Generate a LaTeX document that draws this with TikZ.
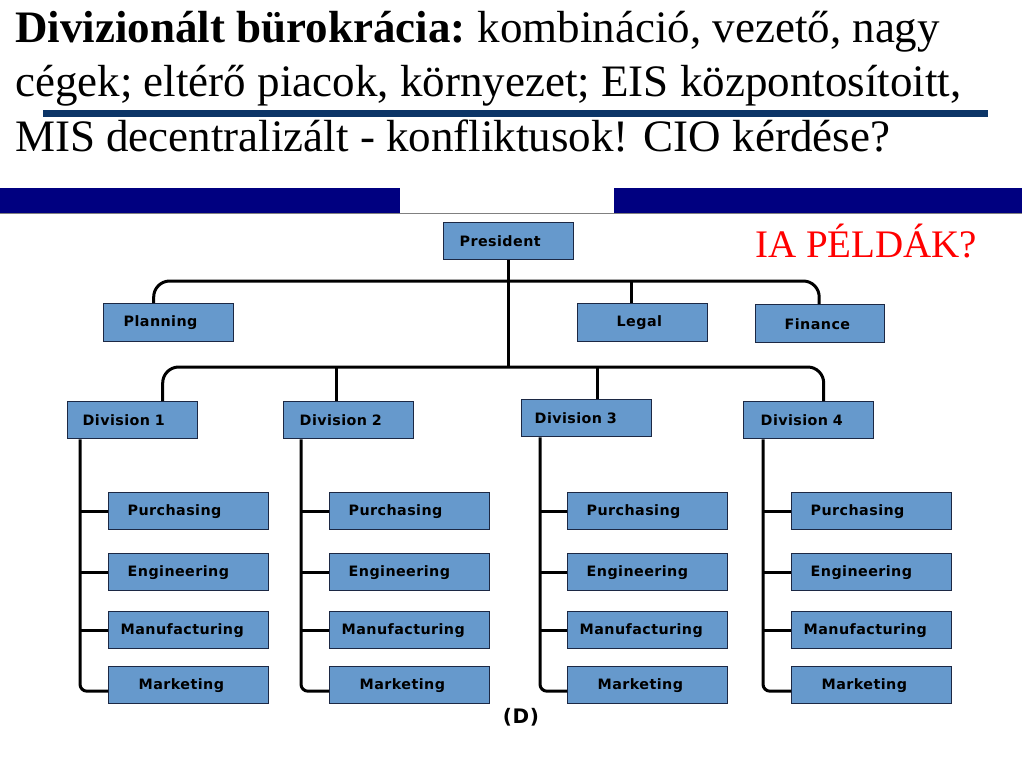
\documentclass[tikz,border=0pt]{standalone}
\usepackage{fontspec}
\setmainfont{Liberation Serif}
\newfontfamily\boxfont[LetterSpace=3]{DejaVu Sans}
\definecolor{boxblue}{HTML}{6699CC}
\definecolor{boxline}{HTML}{1C2844}
\definecolor{navybar}{HTML}{000080}
\definecolor{rulebar}{HTML}{0C3567}
\begin{document}
\begin{tikzpicture}[x=1pt,y=-1pt,
  ob/.style 2 args={draw=boxline, fill=boxblue, line width=1.4pt, anchor=north west,
    inner sep=0pt, minimum height=#2, text width=#1, align=left,
    font=\boxfont\bfseries\fontsize{14.3}{15}\selectfont},
  conn/.style={draw=black, line width=3pt},
  title/.style={anchor=base west, inner sep=0pt, font=\fontsize{45}{54}\selectfont}]
\useasboundingbox (0,0) rectangle (1024,768);

% title
\node[title] (t1) at (15,43) {\textbf{Divizionált bürokrácia:}\hspace{-3pt} kombináció, vezető, nagy};
\node[title] (t2) at (15,96) {cégek; eltérő piacok, környezet; EIS központosítoitt,};
\node[title] (t3) at (15,151) {MIS decentralizált - konfliktusok! CIO kérdése?};
\fill[rulebar] (43,110) rectangle (988,117);

% blue bars
\fill[navybar] (0,188) rectangle (400,213);
\fill[navybar] (614,188) rectangle (1022,213);
\draw[gray, line width=1pt] (0,213) -- (1022,213);

% red text
\node[anchor=base west, inner sep=0pt, text=red, font=\fontsize{39}{40}\selectfont] (ia) at (755,257) {IA PÉLDÁK?};

% top level
\node[ob={130pt}{37pt}] (pres) at (443,222) {\hspace*{16pt}President};
\node[ob={130pt}{38pt}] (plan) at (103,303) {\hspace*{20pt}Planning};
\node[ob={130pt}{38pt}] (leg) at (577,303) {\hspace*{39pt}Legal};
\node[ob={129pt}{38pt}] (fin) at (755,304) {\hspace*{29pt}Finance};

\node[ob={130pt}{37pt}] (d1) at (67,401) {\hspace*{15pt}Division 1};
\node[ob={130pt}{37pt}] (d2) at (283,401) {\hspace*{16pt}Division 2};
\node[ob={130pt}{37pt}] (d3) at (521,399) {\hspace*{13pt}Division 3};
\node[ob={130pt}{37pt}] (d4) at (743,401) {\hspace*{17pt}Division 4};

\foreach \i/\x in {1/108, 2/329, 3/567, 4/791} {
  \node[ob={160pt}{37pt}] (pu\i) at (\x,492) {\hspace*{19pt}Purchasing};
  \node[ob={160pt}{37pt}] (en\i) at (\x,553) {\hspace*{19pt}Engineering};
  \node[ob={160pt}{37pt}] (ma\i) at (\x,611) {\hspace*{12pt}Manufacturing};
  \node[ob={160pt}{37pt}] (mk\i) at (\x,666) {\hspace*{30pt}Marketing};
}

\node[font=\boxfont\bfseries\fontsize{20}{22}\selectfont, inner sep=0pt] (dl) at (521,717) {(D)};

% connectors
\coordinate (j1) at (507,281);
\coordinate (j2) at (507,367);
\draw[conn] (pres.south) -- (pres.south |- j2);
\draw[conn, rounded corners=16pt] ([xshift=-15pt]plan.north) |- ([xshift=-1pt]fin.north |- j1) -- ([xshift=-1pt]fin.north);
\draw[conn] ([xshift=-11pt]leg.north) -- ([xshift=-11pt]leg.north |- j1);
\draw[conn, rounded corners=16pt] ([xshift=30pt]d1.north) |- ([xshift=15pt]d4.north |- j2) -- ([xshift=15pt]d4.north);
\draw[conn] ([xshift=-12pt]d2.north) -- ([xshift=-12pt]d2.north |- j2);
\draw[conn] ([xshift=11pt]d3.north) -- ([xshift=11pt]d3.north |- j2);

\foreach \i/\o in {1/13, 2/18, 3/19, 4/20} {
  \coordinate (v\i) at ([xshift=\o pt]d\i.south west);
  \draw[conn, rounded corners=7pt] (v\i) |- ([yshift=-6pt]mk\i.west);
  \draw[conn] (v\i |- pu\i.west) -- (pu\i.west);
  \draw[conn] (v\i |- en\i.west) -- (en\i.west);
  \draw[conn] (v\i |- ma\i.west) -- (ma\i.west);
}
\end{tikzpicture}
\end{document}
